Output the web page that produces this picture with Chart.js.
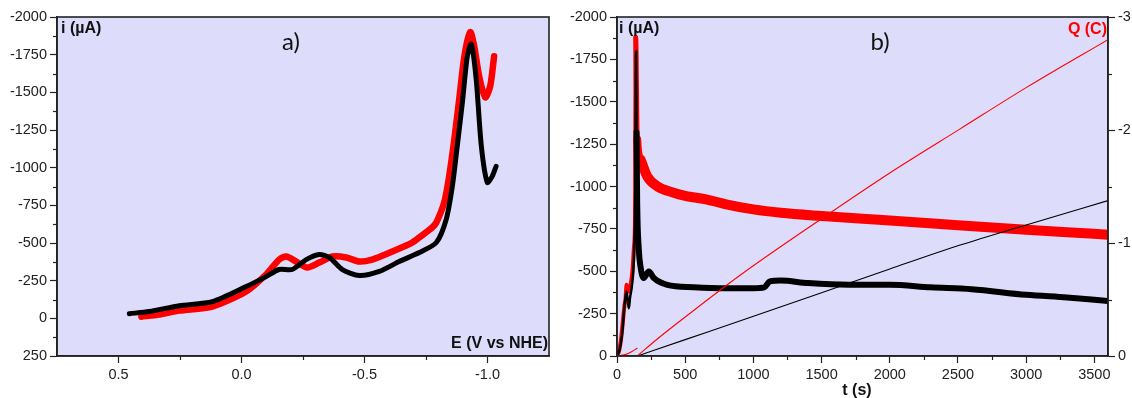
<!DOCTYPE html>
<html><head><meta charset="utf-8">
<script src="https://cdn.jsdelivr.net/npm/chart.js@4.4.1/dist/chart.umd.min.js"></script>
<style>
html,body{margin:0;padding:0;background:#fff;width:1132px;height:398px;overflow:hidden}
#ca{position:absolute;left:0;top:0}
#cb{position:absolute;left:560px;top:0}
</style></head><body>
<canvas id="ca" width="560" height="398"></canvas>
<canvas id="cb" width="572" height="398"></canvas>
<script>
// ---------- a) cyclic voltammetry: E (V vs NHE) vs i (µA) ----------
const cvBlackE = [0.456,0.375,0.253,0.119,-0.019,-0.10,-0.153,-0.206,-0.263,-0.316,-0.357,-0.41,-0.479,-0.56,-0.641,-0.723,-0.792,-0.832,-0.857,-0.877,-0.898,-0.918,-0.934,-0.954,-0.975,-0.999,-1.019,-1.035];
const cvBlackI = [-31,-45,-84,-111,-211,-277,-324,-324,-390,-424,-404,-324,-284,-311,-377,-437,-503,-656,-876,-1142,-1434,-1740,-1820,-1587,-1142,-902,-942,-1009];
const cvRedE = [0.407,0.334,0.253,0.119,-0.019,-0.10,-0.153,-0.182,-0.222,-0.267,-0.316,-0.369,-0.426,-0.479,-0.531,-0.613,-0.694,-0.723,-0.775,-0.792,-0.824,-0.844,-0.865,-0.885,-0.906,-0.930,-0.946,-0.966,-0.991,-1.011,-1.027];
const cvRedI = [-11,-25,-51,-78,-178,-291,-390,-410,-377,-337,-370,-410,-404,-377,-390,-444,-503,-537,-603,-636,-769,-942,-1188,-1454,-1740,-1900,-1806,-1607,-1467,-1540,-1740];

// ---------- b) chronoamperometry: t (s) vs i (µA), and Q (C) ----------
const caRedT = [0,15,30,45,55,62,70,85,100,115,125,132,137,148,172,221,294,416,500,661,800,1000,1200,1500,1800,2000,2500,3000,3300,3600];
const caRedI = [0,-30,-100,-220,-300,-331,-420,-380,-420,-520,-650,-800,-1880,-1278,-1160,-1061,-1002,-963,-945,-923,-895,-865,-845,-826,-810,-800,-772,-745,-730,-716];
const caBlackT = [0,20,40,55,70,80,87,95,110,125,134,140,143,148,160,172,196,233,270,368,562,800,1000,1080,1120,1200,1400,1700,2000,2300,2600,3000,3300,3600];
const caBlackI = [0,-40,-150,-300,-380,-320,-282,-340,-420,-600,-1000,-1800,-1320,-900,-627,-528,-460,-499,-460,-420,-406,-400,-400,-405,-440,-445,-430,-420,-420,-405,-394,-361,-345,-325];
const qRedPreT = [0,60,110,147];
const qRedPreQ = [0,-0.012,-0.04,-0.068];
const qRedT = [148,300,500,905,1500,2000,2516,3000,3600];
const qRedQ = [0,-0.155,-0.345,-0.717,-1.215,-1.62,-2.01,-2.375,-2.80];
const qBlackT = [150,500,905,1500,2000,2516,3000,3600];
const qBlackQ = [0,-0.145,-0.312,-0.56,-0.77,-0.982,-1.16,-1.375];

// ---------- tick labels ----------
const cvXTicks = [0.5,0.0,-0.5,-1.0];
const cvXLabels = ['0.5','0.0','-0.5','-1.0'];
const cvYTicks = [-2000,-1750,-1500,-1250,-1000,-750,-500,-250,0,250];
const cvYLabels = ['-2000','-1750','-1500','-1250','-1000','-750','-500','-250','0','250'];
const caXTicks = [0,500,1000,1500,2000,2500,3000,3500];
const caXLabels = ['0','500','1000','1500','2000','2500','3000','3500'];
const caYTicks = [-2000,-1750,-1500,-1250,-1000,-750,-500,-250,0];
const caYLabels = ['-2000','-1750','-1500','-1250','-1000','-750','-500','-250','0'];
const qTicks = [-3,-2,-1,0];
const qLabels = ['-3','-2','-1','0'];

const zip = (xs, ys) => xs.map((x, i) => ({x, y: ys[i]}));
const mids = a => a.slice(1).map((v, i) => (v + a[i]) / 2);

const BG = 'rgb(221,221,251)';
const INK = '#222';
const TICKFONT = {family: "'Liberation Sans', Arial, sans-serif", size: 14.5};
const LBL = "bold 16px 'Liberation Sans', Arial, sans-serif";

const framePlugin = {
  id: 'frame',
  beforeDraw(chart) {
    const a = chart.chartArea, c = chart.ctx;
    c.save(); c.fillStyle = BG; c.fillRect(a.left, a.top, a.right - a.left, a.bottom - a.top); c.restore();
  },
  afterDraw(chart) {
    const a = chart.chartArea, c = chart.ctx, o = chart.options.plugins.frame;
    c.save();
    c.strokeStyle = INK; c.lineWidth = 1.2;
    for (const id in o.minors) {
      const s = chart.scales[id];
      for (const v of o.minors[id]) {
        const p = Math.round(s.getPixelForValue(v)) + 0.5;
        c.beginPath();
        if (s.isHorizontal()) { c.moveTo(p, a.bottom); c.lineTo(p, a.bottom + 4); }
        else if (s.position === 'left') { c.moveTo(a.left, p); c.lineTo(a.left - 4, p); }
        else { c.moveTo(a.right, p); c.lineTo(a.right + 4, p); }
        c.stroke();
      }
    }
    c.lineWidth = 1.6;
    c.strokeRect(a.left, a.top, a.right - a.left, a.bottom - a.top);
    for (const t of o.texts) {
      c.font = t.font; c.fillStyle = t.color || '#111'; c.textAlign = t.align; c.textBaseline = 'middle';
      c.fillText(t.text, a.left + t.dx, t.y);
    }
    c.restore();
  }
};

function axisCommon(vals, labels, extra) {
  return Object.assign({
    type: 'linear',
    afterBuildTicks: s => { s.ticks = vals.map(v => ({value: v})); },
    ticks: {callback: (v, i) => labels[i], font: TICKFONT, color: INK, padding: 3, autoSkip: false, maxRotation: 0},
    grid: {drawOnChartArea: false, drawTicks: true, tickLength: 7, tickWidth: 1.2, tickColor: INK},
    border: {display: true, color: INK, width: 1.6}
  }, extra);
}

new Chart(document.getElementById('ca'), {
  type: 'line',
  data: {datasets: [
    {data: zip(cvBlackE, cvBlackI), borderColor: '#000', borderWidth: 5},
    {data: zip(cvRedE, cvRedI), borderColor: '#ff0000', borderWidth: 6.5}
  ]},
  options: {
    responsive: false, animation: false,
    layout: {padding: {top: 17, right: 11, left: 0, bottom: 0}},
    elements: {point: {radius: 0}, line: {tension: 0.25, borderJoinStyle: 'round', borderCapStyle: 'round'}},
    scales: {
      x: axisCommon(cvXTicks, cvXLabels, {min: -1.25, max: 0.75, reverse: true, afterFit: s => { s.height = 42; }}),
      y: axisCommon(cvYTicks, cvYLabels, {min: -2000, max: 250, reverse: true, afterFit: s => { s.width = 57; }})
    },
    plugins: {
      legend: {display: false}, tooltip: {enabled: false},
      frame: {
        minors: {x: mids(cvXTicks), y: mids(cvYTicks)},
        texts: [
          {text: 'a)', dx: 234, y: 42, font: "24px Lato, 'Open Sans', sans-serif", align: 'center'},
          {text: 'i (µA)', dx: 4, y: 29, font: LBL, align: 'left'},
          {text: 'E (V vs NHE)', dx: 491, y: 344, font: LBL, align: 'right'}
        ]
      }
    }
  },
  plugins: [framePlugin]
});

new Chart(document.getElementById('cb'), {
  type: 'line',
  data: {datasets: [
    {data: zip(qRedPreT, qRedPreQ), yAxisID: 'q', borderColor: '#ff0000', borderWidth: 1.1},
    {data: zip(qRedT, qRedQ), yAxisID: 'q', borderColor: '#ff0000', borderWidth: 1.1},
    {data: zip(qBlackT, qBlackQ), yAxisID: 'q', borderColor: '#000', borderWidth: 1.1},
    {data: zip(caBlackT, caBlackI), yAxisID: 'y', borderColor: '#000', borderWidth: 6, tension: 0.15,
      segment: {borderWidth: ctx => ctx.p0.parsed.x < 142 ? 2.5 : 6}},
    {data: zip(caRedT, caRedI), yAxisID: 'y', borderColor: '#ff0000', borderWidth: 10, tension: 0.15,
      segment: {borderWidth: ctx => ctx.p0.parsed.x < 137 ? 4 : (ctx.p0.parsed.x < 148 ? 5 : (ctx.p0.parsed.x < 172 ? 8 : 10))}}
  ]},
  options: {
    responsive: false, animation: false,
    layout: {padding: {top: 17, right: 0, left: 0, bottom: 0}},
    elements: {point: {radius: 0}, line: {cubicInterpolationMode: 'monotone', borderJoinStyle: 'round', borderCapStyle: 'round'}},
    scales: {
      x: axisCommon(caXTicks, caXLabels, {min: 0, max: 3600, afterFit: s => { s.height = 42; }}),
      y: axisCommon(caYTicks, caYLabels, {min: -2000, max: 0, reverse: true, position: 'left', afterFit: s => { s.width = 57; }}),
      q: axisCommon(qTicks, qLabels, {min: -3, max: 0, reverse: true, position: 'right', afterFit: s => { s.width = 24; }})
    },
    plugins: {
      legend: {display: false}, tooltip: {enabled: false},
      frame: {
        minors: {x: mids(caXTicks), y: mids(caYTicks), q: mids(qTicks)},
        texts: [
          {text: 'b)', dx: 263, y: 42, font: "24px Lato, 'Open Sans', sans-serif", align: 'center'},
          {text: 'i (µA)', dx: 2, y: 29, font: LBL, align: 'left'},
          {text: 'Q (C)', dx: 490, y: 30, font: LBL, align: 'right', color: '#ff0000'},
          {text: 't (s)', dx: 240, y: 391, font: LBL, align: 'center'}
        ]
      }
    }
  },
  plugins: [framePlugin]
});
</script>
</body></html>
